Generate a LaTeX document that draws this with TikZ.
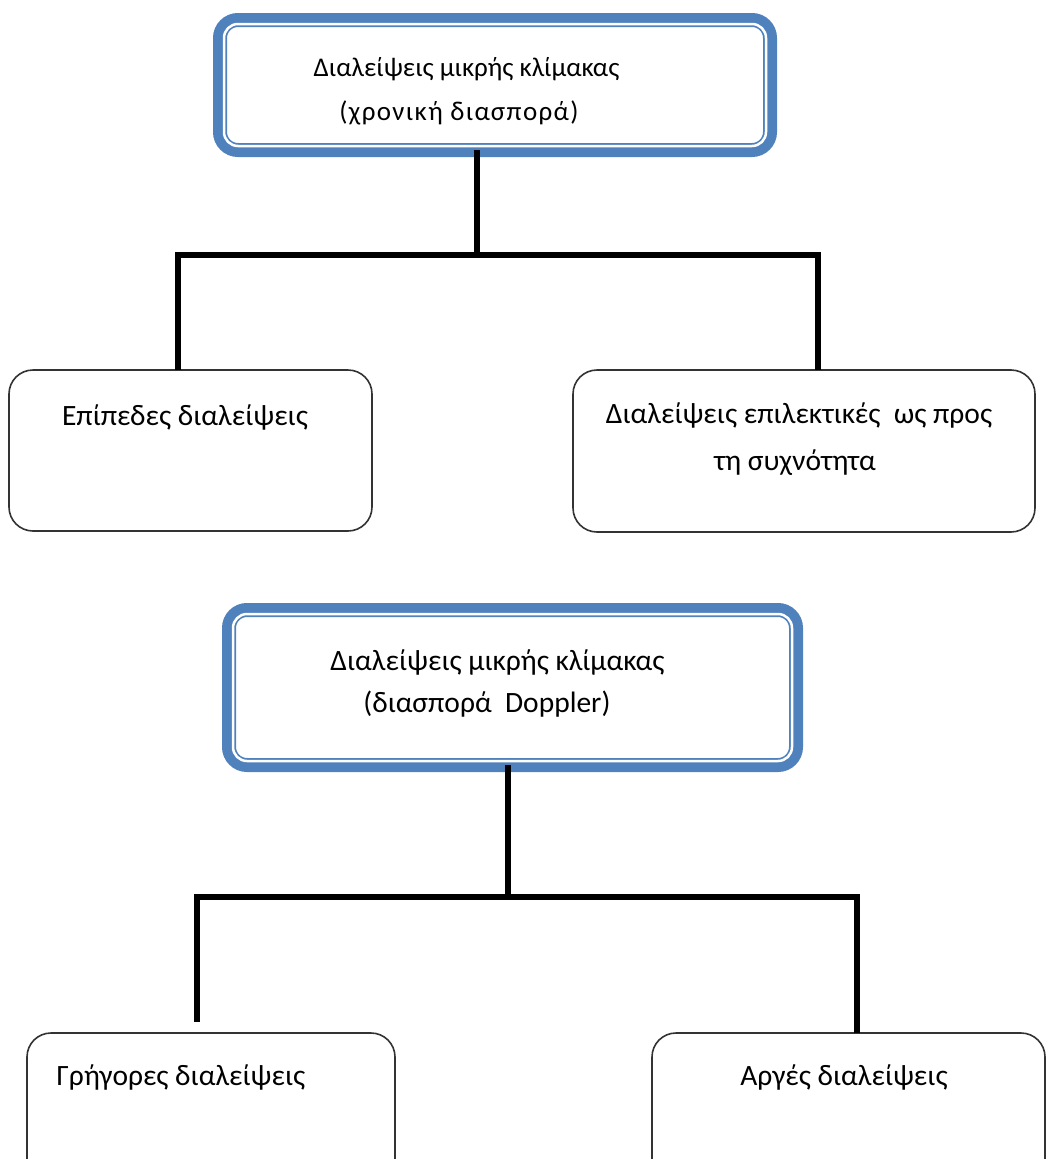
\documentclass[tikz,border=0pt]{standalone}
\usepackage{fontspec}
\setmainfont{Carlito}
\definecolor{offblue}{HTML}{4F81BD}
\definecolor{boxline}{HTML}{333333}
\begin{document}
\begin{tikzpicture}[x=1pt,y=-1pt,
  mainbox/.style={draw=offblue, line width=14pt, fill=white, rounded corners=18pt, outer sep=0pt, inner sep=0pt},
  innerline/.style={draw=white, line width=2.5pt, rounded corners=14pt},
  leafbox/.style={draw=boxline, line width=1.6pt, fill=white, rounded corners=24pt, outer sep=0pt, inner sep=0pt},
  conn/.style={draw=black, line width=6pt},
  txt/.style={anchor=base, inner sep=0pt, font=\fontsize{29.5}{35}\selectfont, text=black},
  txtsmall/.style={txt, font=\fontsize{27}{33}\selectfont}]
\useasboundingbox (0,0) rectangle (1046,1159);
\clip (0,0) rectangle (1046,1159);
\fill[white] (0,0) rectangle (1046,1159);

% top group
\node[mainbox, minimum width=550pt, minimum height=130pt] (b1) at (495,85) {};
\draw[innerline] ([shift={(4,4)}]b1.north west) rectangle ([shift={(-4,-4)}]b1.south east);
\node[txtsmall] (b1t1) at (466.5,76) {Διαλείψεις μικρής κλίμακας};
\node[txtsmall] (b1t2) at (459,120) {\addfontfeature{LetterSpace=5}(χρονική διασπορά)};

\node[leafbox, minimum width=363pt, minimum height=161pt] (a1) at (190.5,450.5) {};
\node[leafbox, minimum width=462pt, minimum height=162pt] (a2) at (804,451) {};
\node[txt] (a1t) at (185,425) {Επίπεδες διαλείψεις};
\node[txt] (a2t1) at (799,423) {Διαλείψεις επιλεκτικές \ ως προς};
\node[txt] (a2t2) at (795,470) {τη συχνότητα};

\coordinate (j1) at (477,255);
\coordinate (cL1) at (178,255);
\coordinate (cR1) at (818,255);
\draw[conn] (b1.south -| j1) -- (j1);
\draw[conn] (a1.north -| cL1) -- (cL1) -- (cR1) -- (a2.north -| cR1);

% bottom group
\node[mainbox, minimum width=567pt, minimum height=155pt] (b2) at (512.5,687.5) {};
\draw[innerline] ([shift={(4,4)}]b2.north west) rectangle ([shift={(-4,-4)}]b2.south east);
\node[txt] (b2t1) at (497.5,670) {Διαλείψεις μικρής κλίμακας};
\node[txt] (b2t2) at (487,712) {(διασπορά \ Doppler)};

\node[leafbox, minimum width=368pt, minimum height=170pt] (c1) at (211,1118) {};
\node[leafbox, minimum width=393pt, minimum height=170pt] (c2) at (848.5,1118) {};
\node[txt] (c1t) at (181,1085) {Γρήγορες διαλείψεις};
\node[txt] (c2t) at (844,1085) {Αργές διαλείψεις};

\coordinate (j2) at (508,897);
\coordinate (cL2) at (197,897);
\coordinate (cR2) at (857,897);
\coordinate (eL2) at (197,1022);
\draw[conn] (b2.south -| j2) -- (j2);
\draw[conn] (eL2) -- (cL2) -- (cR2) -- (c2.north -| cR2);
\end{tikzpicture}
\end{document}
